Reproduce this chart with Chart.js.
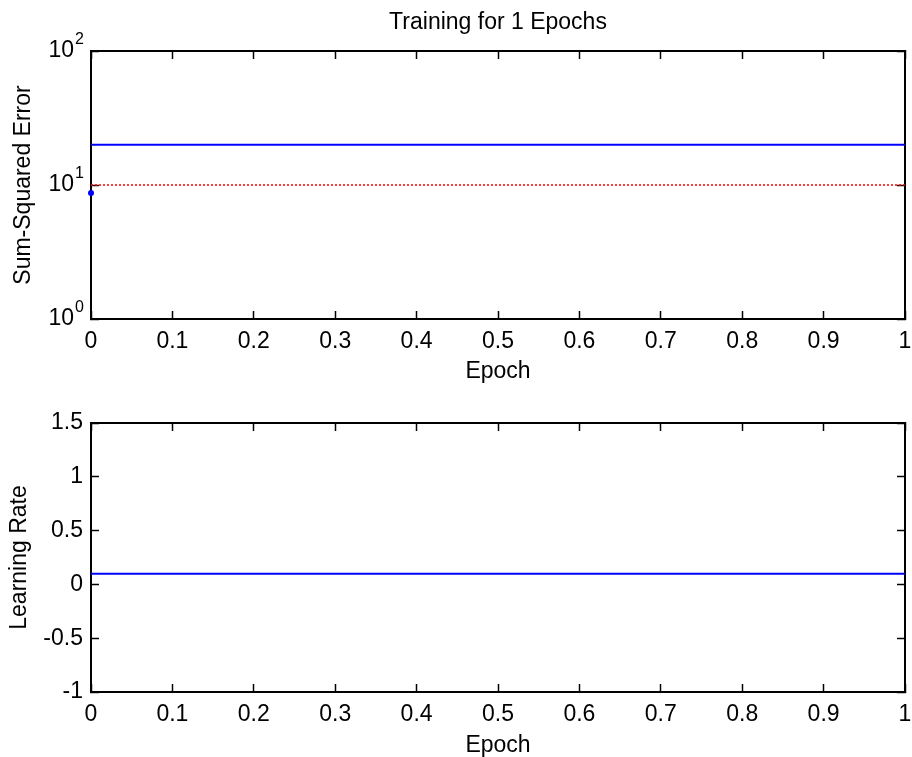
<!DOCTYPE html>
<html>
<head>
<meta charset="utf-8">
<title>Training for 1 Epochs</title>
<script src="https://cdn.jsdelivr.net/npm/chart.js@4.4.0/dist/chart.umd.min.js"></script>
<style>
    html, body { margin: 0; padding: 0; background: #fff; }
    #wrap { position: relative; width: 912px; height: 757px; overflow: hidden; }
    canvas { position: absolute; left: 0; }
    #errCanvas { top: 0; }
    #lrCanvas { top: 395px; }
</style>
</head>
<body>
<div id="wrap">
    <canvas id="errCanvas" width="912" height="395"></canvas>
    <canvas id="lrCanvas" width="912" height="362"></canvas>
</div>
<script>
// data
const epochs = [0, 1];
const sseValues = [20, 20];          // blue solid line
const goalValues = [10, 10];         // red dotted goal
const startEpoch = [0];
const startError = [8.7];            // blue dot at epoch 0
const lrValues = [0.1, 0.1];         // learning rate

const xTicks = [0, 0.1, 0.2, 0.3, 0.4, 0.5, 0.6, 0.7, 0.8, 0.9, 1];
const logTicks = [1, 10, 100];
const logExponents = ["0", "1", "2"];
const lrTicks = [-1, -0.5, 0, 0.5, 1, 1.5];

const FONT = "'Liberation Sans', Arial, Helvetica, sans-serif";
Chart.defaults.font.family = FONT;
Chart.defaults.font.size = 23;
Chart.defaults.color = "#000";

function toPoints(xs, ys) {
    return xs.map((x, i) => ({ x: x, y: ys[i] }));
}

function setTicks(values) {
    return function (scale) {
        scale.ticks = values.map(v => ({ value: v }));
    };
}

// fixed axis size, and no extra room for overhanging labels
function fixSize(prop, px) {
    return function (scale) {
        scale[prop] = px;
        scale.paddingLeft = 0;
        scale.paddingRight = 0;
        scale.paddingTop = 0;
        scale.paddingBottom = 0;
    };
}

// inward tick marks, like the matlab box
const tickGrid = { drawOnChartArea: false, tickLength: -8, tickWidth: 1.5, color: "#000" };
const axisBorder = { color: "#000", width: 2 };

function boxAxis(position, type, min, max, values) {
    return {
        type: type,
        position: position,
        min: min,
        max: max,
        afterBuildTicks: setTicks(values),
        afterFit: fixSize(position === "top" ? "height" : "width", 0),
        ticks: { display: false },
        grid: tickGrid,
        border: axisBorder
    };
}

function xAxis(height, titlePadBottom) {
    return {
        type: "linear",
        position: "bottom",
        min: 0,
        max: 1,
        afterBuildTicks: setTicks(xTicks),
        afterFit: fixSize("height", height),
        ticks: { padding: 16.5, maxRotation: 0, autoSkip: false, callback: v => String(v) },
        grid: tickGrid,
        border: axisBorder,
        title: { display: true, text: "Epoch", font: { size: 23, lineHeight: 1 }, padding: { top: 0, bottom: titlePadBottom } }
    };
}

// the "10" comes from the axis, the raised power is drawn next to it
const exponentLabels = {
    id: "exponentLabels",
    afterDraw(chart) {
        let scale = chart.scales.y;
        let ctx = chart.ctx;
        ctx.save();
        ctx.font = "16px " + FONT;
        ctx.fillStyle = "#000";
        ctx.textAlign = "left";
        ctx.textBaseline = "middle";
        logTicks.forEach((v, i) => {
            ctx.fillText(logExponents[i], scale.right - 16, scale.getPixelForValue(v) - 11);
        });
        ctx.restore();
    }
};

const noLegend = { legend: { display: false }, tooltip: { enabled: false } };

// top subplot: sum-squared error (log scale)
new Chart(document.getElementById("errCanvas"), {
    type: "line",
    data: {
        datasets: [
            { data: toPoints(epochs, sseValues), borderColor: "#0000ff", borderWidth: 2, pointRadius: 0 },
            { data: toPoints(epochs, goalValues), borderColor: "#ff0000", borderWidth: 1.5, borderDash: [2, 2], pointRadius: 0 },
            { data: toPoints(startEpoch, startError), showLine: false, pointRadius: 3, pointBorderWidth: 0,
              pointBackgroundColor: "#0000ff", clip: false }
        ]
    },
    options: {
        responsive: false,
        animation: false,
        events: [],
        layout: { padding: { top: 0, left: 0, right: 7, bottom: 0 } },
        plugins: Object.assign({}, noLegend, {
            title: {
                display: true,
                text: "Training for 1 Epochs",
                fullSize: false,
                color: "#000",
                font: { size: 23, weight: "normal", lineHeight: 1 },
                padding: { top: 11, bottom: 17 }
            }
        }),
        scales: {
            x: xAxis(76, 12),
            y: {
                type: "logarithmic",
                position: "left",
                min: 1,
                max: 100,
                afterBuildTicks: setTicks(logTicks),
                afterFit: fixSize("width", 91),
                ticks: { padding: 25, callback: () => "10" },
                grid: tickGrid,
                border: axisBorder,
                title: { display: true, text: "Sum-Squared Error", font: { size: 23, lineHeight: 1 }, padding: { top: 12.5, bottom: 0 } }
            },
            x2: boxAxis("top", "linear", 0, 1, xTicks),
            y2: boxAxis("right", "logarithmic", 1, 100, logTicks)
        }
    },
    plugins: [exponentLabels]
});

// bottom subplot: learning rate
new Chart(document.getElementById("lrCanvas"), {
    type: "line",
    data: {
        datasets: [
            { data: toPoints(epochs, lrValues), borderColor: "#0000ff", borderWidth: 2, pointRadius: 0 }
        ]
    },
    options: {
        responsive: false,
        animation: false,
        events: [],
        layout: { padding: { top: 28, left: 0, right: 7, bottom: 0 } },
        plugins: noLegend,
        scales: {
            x: xAxis(65, 0),
            y: {
                type: "linear",
                position: "left",
                min: -1,
                max: 1.5,
                afterBuildTicks: setTicks(lrTicks),
                afterFit: fixSize("width", 91),
                ticks: { padding: 16, callback: v => String(v) },
                grid: tickGrid,
                border: axisBorder,
                title: { display: true, text: "Learning Rate", font: { size: 23, lineHeight: 1 }, padding: { top: 8.5, bottom: 0 } }
            },
            x2: boxAxis("top", "linear", 0, 1, xTicks),
            y2: boxAxis("right", "linear", -1, 1.5, lrTicks)
        }
    }
});
</script>
</body>
</html>
